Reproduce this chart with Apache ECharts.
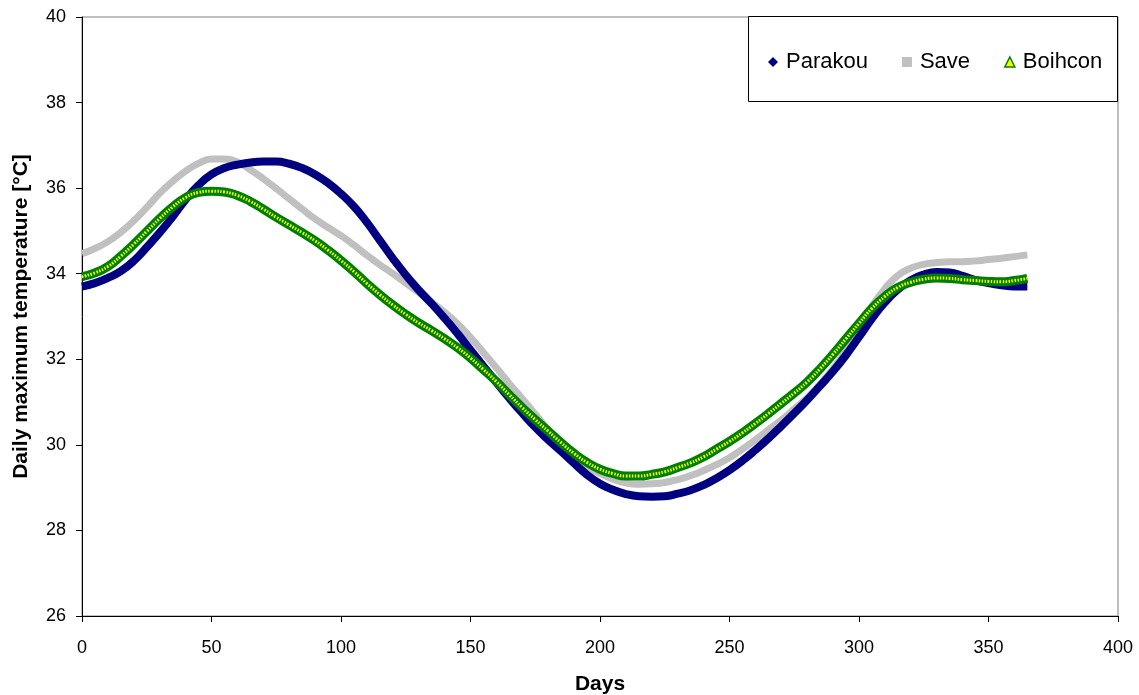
<!DOCTYPE html>
<html>
<head>
<meta charset="utf-8">
<script src="https://cdn.jsdelivr.net/npm/echarts@6/dist/echarts.min.js"></script>
<style>html,body{margin:0;padding:0;background:#fff}#c{width:1139px;height:695px}</style>
</head>
<body>
<div id="c"></div>
<script>
const days = [0,5,10,15,20,25,30,35,40,45,50,55,60,65,70,75,80,85,90,95,100,105,110,115,120,125,130,135,140,145,150,155,160,165,170,175,180,185,190,195,200,205,210,215,220,225,230,235,240,245,250,255,260,265,270,275,280,285,290,295,300,305,310,315,320,325,330,335,340,345,350,355,360,365];
const parakou = [33.70,33.78,33.90,34.06,34.30,34.62,34.96,35.33,35.73,36.07,36.32,36.47,36.55,36.60,36.62,36.62,36.57,36.47,36.32,36.12,35.87,35.57,35.20,34.78,34.36,33.97,33.62,33.30,32.96,32.60,32.22,31.84,31.46,31.09,30.74,30.41,30.12,29.85,29.57,29.30,29.09,28.95,28.85,28.80,28.79,28.80,28.86,28.94,29.06,29.22,29.41,29.63,29.88,30.15,30.44,30.74,31.05,31.38,31.72,32.10,32.52,32.95,33.33,33.63,33.85,33.98,34.04,34.03,33.95,33.85,33.78,33.73,33.70,33.70];
const save = [34.47,34.59,34.75,34.97,35.24,35.55,35.88,36.16,36.40,36.58,36.68,36.68,36.61,36.43,36.22,35.99,35.75,35.51,35.28,35.08,34.89,34.67,34.43,34.21,34.00,33.78,33.56,33.33,33.10,32.83,32.51,32.16,31.80,31.43,31.08,30.72,30.35,30.00,29.72,29.50,29.33,29.20,29.11,29.08,29.09,29.12,29.19,29.28,29.40,29.54,29.70,29.90,30.12,30.35,30.58,30.84,31.10,31.42,31.78,32.22,32.72,33.24,33.65,33.96,34.13,34.22,34.26,34.28,34.28,34.30,34.33,34.36,34.40,34.44];
const boihcon = [33.93,34.02,34.17,34.41,34.69,34.99,35.29,35.56,35.78,35.90,35.93,35.91,35.83,35.69,35.51,35.32,35.14,34.96,34.77,34.55,34.31,34.05,33.77,33.51,33.27,33.05,32.85,32.67,32.48,32.27,32.03,31.76,31.48,31.17,30.87,30.59,30.32,30.05,29.80,29.59,29.43,29.33,29.27,29.27,29.31,29.37,29.47,29.58,29.72,29.90,30.08,30.28,30.50,30.73,30.97,31.21,31.47,31.78,32.12,32.48,32.84,33.19,33.47,33.68,33.80,33.87,33.90,33.89,33.86,33.84,33.82,33.81,33.84,33.89];
const seriesNames = ['Parakou','Save','Boihcon'];
const xTitle = 'Days';
const yTitle = 'Daily maximum temperature [°C]';

const pairs = arr => days.map((d,i)=>[d,arr[i]]);
const FONT = 'Liberation Sans, Arial, sans-serif';
const chart = echarts.init(document.getElementById('c'), null, {renderer:'canvas'});
chart.setOption({
  animation:false,
  backgroundColor:'#fff',
  textStyle:{fontFamily:FONT,color:'#000'},
  grid:{left:82,right:21,top:17,bottom:79,containLabel:false,outerBoundsMode:'none',show:true,borderColor:'#808080',borderWidth:1,backgroundColor:'transparent'},
  graphic:[{type:'rect',z:1,shape:{x:748.5,y:16.5,width:369,height:85},style:{fill:'#fff',stroke:'#000',lineWidth:1}}],
  legend:{
    z:10,left:763,top:46,itemGap:34,itemWidth:10,itemHeight:10,padding:5,
    textStyle:{fontSize:22,fontFamily:FONT,color:'#000',padding:[0,0,0,3]},
    data:[
      {name:seriesNames[0],icon:'diamond',itemStyle:{color:'#000080',borderWidth:0}},
      {name:seriesNames[1],icon:'rect',itemStyle:{color:'#C0C0C0',borderWidth:0}},
      {name:seriesNames[2],icon:'triangle',itemStyle:{color:'#FFFF00',borderColor:'#008000',borderWidth:1.5}}
    ]
  },
  xAxis:{
    type:'value',min:0,max:400,interval:50,
    name:xTitle,nameLocation:'middle',nameGap:58,
    nameTextStyle:{fontSize:21,fontWeight:'bold',fontFamily:FONT,color:'#000'},
    axisLine:{show:true,lineStyle:{color:'#000',width:1}},
    axisTick:{show:true,length:6,inside:false,lineStyle:{color:'#000'}},
    axisLabel:{fontSize:18,color:'#000',margin:23,fontFamily:FONT},
    splitLine:{show:false}
  },
  yAxis:{
    type:'value',min:26,max:40,interval:2,
    name:yTitle,nameLocation:'middle',nameGap:50,
    nameTextStyle:{fontSize:21,fontWeight:'bold',fontFamily:FONT,color:'#000'},
    axisLine:{show:true,lineStyle:{color:'#000',width:1}},
    axisTick:{show:true,length:6,inside:false,lineStyle:{color:'#000'}},
    axisLabel:{fontSize:18,color:'#000',margin:16,fontFamily:FONT},
    splitLine:{show:false}
  },
  series:[
    {name:seriesNames[1],type:'line',data:pairs(save),smooth:true,showSymbol:false,z:2,
     lineStyle:{color:'#C0C0C0',width:7},itemStyle:{color:'#C0C0C0'}},
    {name:seriesNames[0],type:'line',data:pairs(parakou),smooth:true,showSymbol:false,z:3,
     lineStyle:{color:'#000080',width:8},itemStyle:{color:'#000080'}},
    {name:seriesNames[2],type:'line',data:pairs(boihcon),smooth:true,showSymbol:false,z:4,
     lineStyle:{color:'#008000',width:9},itemStyle:{color:'#FFFF00',borderColor:'#008000'}},
    {name:'Boihcon-inner',type:'line',data:pairs(boihcon),smooth:true,showSymbol:false,z:5,silent:true,
     lineStyle:{color:'#FFFF00',width:3,type:[1.5,1.5]}}
  ]
});
</script>
</body>
</html>
